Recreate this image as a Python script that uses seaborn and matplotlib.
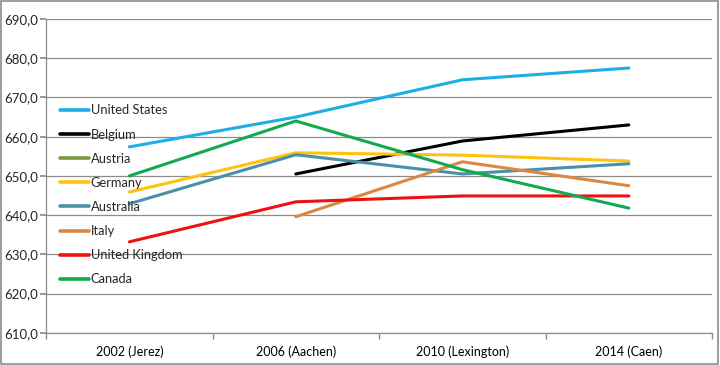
import matplotlib
matplotlib.use("Agg")
import matplotlib.pyplot as plt
import numpy as np
import pandas as pd
import seaborn as sns
from matplotlib.lines import Line2D
from matplotlib.patches import Rectangle
from matplotlib.ticker import FuncFormatter, FixedLocator

events = ["2002 (Jerez)", "2006 (Aachen)", "2010 (Lexington)", "2014 (Caen)"]
countries = ["United States", "Belgium", "Austria", "Germany",
             "Australia", "Italy", "United Kingdom", "Canada"]
united_states = [657.4, 665.0, 674.5, 677.5]
belgium = [np.nan, 650.5, 658.9, 663.0]
austria = [np.nan, np.nan, np.nan, np.nan]
germany = [645.9, 655.9, 655.3, 653.8]
australia = [642.9, 655.4, 650.5, 653.1]
italy = [np.nan, 639.6, 653.6, 647.5]
united_kingdom = [633.2, 643.4, 644.9, 644.9]
canada = [650.0, 664.0, 651.6, 641.8]
colors = ["#1EAEE6", "#000000", "#7A9A3A", "#FFC20E",
          "#4A91A8", "#DB8742", "#EE1111", "#12AA4E"]

series = [united_states, belgium, austria, germany,
          australia, italy, united_kingdom, canada]
df = pd.DataFrame({
    "event": events * len(countries),
    "country": np.repeat(countries, len(events)),
    "score": np.concatenate(series),
})
palette = dict(zip(countries, colors))

sns.set_theme(style="white")
plt.rcParams["font.family"] = ["Lato", "DejaVu Sans"]

fig = plt.figure(figsize=(7.2, 3.65), dpi=100)
ax = fig.add_axes([0.064, 0.088, 0.925, 0.86])

sns.lineplot(data=df.dropna(), x="event", y="score", hue="country",
             hue_order=countries, palette=palette, linewidth=2.2,
             legend=False, ax=ax, sort=False)

ax.set_xlim(-0.5, 3.5)
ax.set_ylim(610, 690)
ax.set_yticks(np.arange(610, 691, 10))
ax.yaxis.set_major_formatter(FuncFormatter(lambda v, p: f"{v:.1f}".replace(".", ",")))
ax.grid(axis="y", color="#8C8C8C", linewidth=0.9)
ax.set_axisbelow(True)
ax.set_xlabel("")
ax.set_ylabel("")
ax.xaxis.set_minor_locator(FixedLocator([-0.5, 0.5, 1.5, 2.5, 3.5]))
ax.tick_params(axis="x", which="major", length=0, pad=9, labelsize=9, colors="black")
ax.tick_params(axis="x", which="minor", length=4, color="#8C8C8C", bottom=True)
ax.tick_params(axis="y", length=4, color="#8C8C8C", left=True, labelsize=9.5, pad=2)
for side in ["top", "right"]:
    ax.spines[side].set_visible(False)
for side in ["left", "bottom"]:
    ax.spines[side].set_color("#8C8C8C")
    ax.spines[side].set_linewidth(0.9)

handles = [Line2D([0], [0], color=palette[c], linewidth=2.6) for c in countries]
ax.legend(handles, countries, loc="upper left", bbox_to_anchor=(0.004, 0.765),
          frameon=False, fontsize=9.3, handlelength=2.2, handletextpad=0.15,
          labelspacing=0.94, borderaxespad=0.5)

fig.patches.append(Rectangle((0.002, 0.003), 0.995, 0.993, transform=fig.transFigure,
                             fill=False, edgecolor="#8C8C8C", linewidth=1.2))

fig.savefig("out.png", dpi=100, facecolor="white")
